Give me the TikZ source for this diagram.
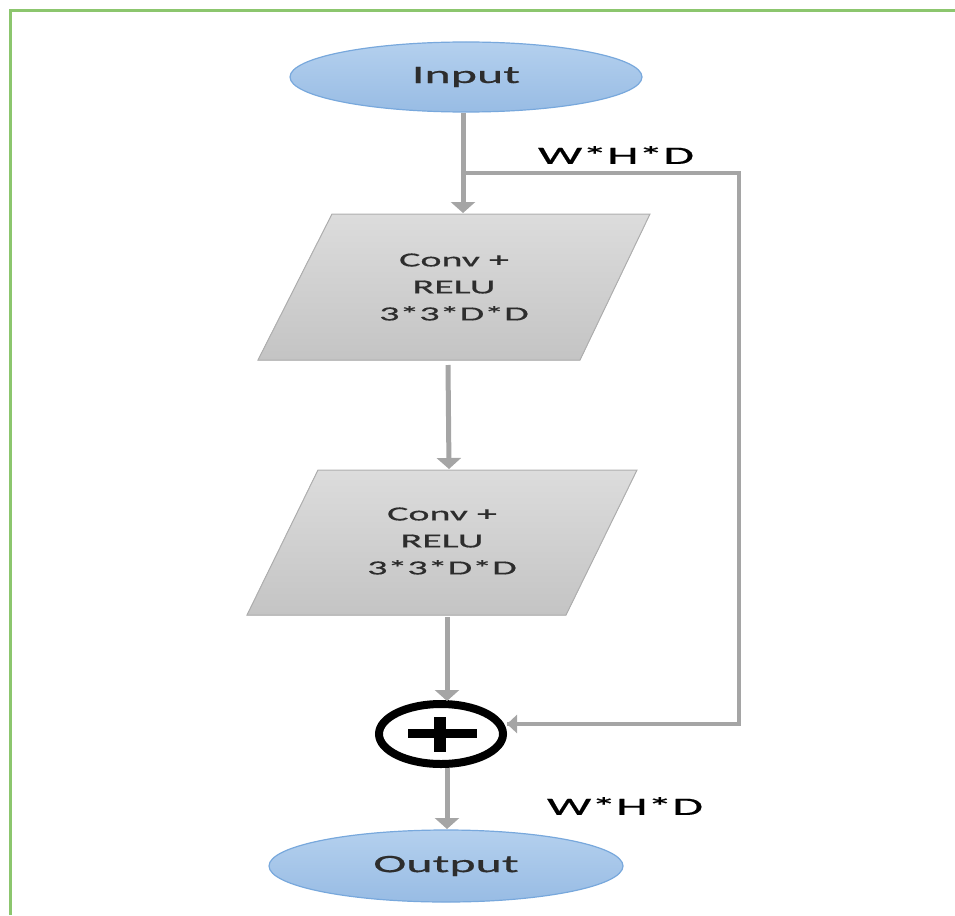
\documentclass[tikz,border=0pt]{standalone}
\usepackage{fontspec}
\usetikzlibrary{arrows.meta,shapes.geometric}
\newfontfamily\dfont[FakeStretch=2,FakeBold=0.6]{Carlito}
\definecolor{frameg}{RGB}{140,198,110}
\definecolor{linkg}{RGB}{165,165,165}
\definecolor{ovaltop}{RGB}{180,208,238}
\definecolor{ovalbot}{RGB}{152,188,228}
\definecolor{ovalrim}{RGB}{120,168,220}
\definecolor{boxtop}{RGB}{220,220,220}
\definecolor{boxbot}{RGB}{196,196,196}
\definecolor{boxrim}{RGB}{175,175,175}
\definecolor{txtgray}{RGB}{45,45,45}
\tikzset{
  x=1pt, y=-1pt,
  oval/.style={ellipse, draw=ovalrim, line width=1.2pt, top color=ovaltop,
    bottom color=ovalbot, inner sep=0pt, font=\dfont\fontsize{25}{30}\selectfont,
    text=txtgray},
  slantbox/.style={draw=boxrim, line width=1pt, top color=boxtop, bottom color=boxbot},
  boxtext/.style={align=center, font=\dfont\fontsize{20}{27}\selectfont, text=txtgray},
  link/.style={draw=linkg, line width=5pt},
  flow/.style={link, -{Triangle[width=24pt,length=11pt]}},
  dimlabel/.style={font=\dfont\fontsize{25}{30}\selectfont, text=black},
}
\begin{document}
\begin{tikzpicture}
\useasboundingbox (0,0) rectangle (955,915);
% page frame (left and top edges)
\draw[frameg, line width=3pt] (10.5,915) -- (10.5,11) -- (955,11);

% terminals
\node[oval, minimum width=352pt, minimum height=70pt] (in) at (466,77) {Input};
\node[oval, minimum width=354pt, minimum height=72pt] (out) at (446,866) {Output};

% convolution blocks
\fill[slantbox] (332,214) -- (650,214) -- (580,360) -- (258,360) -- cycle;
\node[boxtext] (c1) at (454,287) {Conv +\\RELU\\3*3*D*D};
\fill[slantbox] (318,470) -- (637,470) -- (566,615) -- (247,615) -- cycle;
\node[boxtext] (c2) at (442,541) {Conv +\\RELU\\3*3*D*D};

% element-wise sum
\node[draw=black, line width=8pt, ellipse, minimum width=124pt, minimum height=60pt,
  inner sep=0pt] (sum) at (441,734) {};
\fill[black] (408,729) rectangle (477,738);
\fill[black] (434,717) rectangle (446,752);

% connector end points
\coordinate (inS) at (463,113);
\coordinate (c1N) at (463,213);
\coordinate (split) at (463,173);
\coordinate (skipA) at (739,173);
\coordinate (skipB) at (739,724);
\coordinate (sumE) at (507,724);
\coordinate (c1S) at (448,365);
\coordinate (c2N) at (449,469);
\coordinate (c2S) at (447,617);
\coordinate (sumN) at (447,701);
\coordinate (sumS) at (447,768);
\coordinate (outN) at (447,829);

\draw[flow] (inS) -- (c1N);
\draw[link, line width=3.5pt] (split) -- (skipA) -- (skipB) -- (sumE);
\draw[link, line width=3.5pt, -{Triangle[width=18pt,length=10pt]}] ([xshift=1pt]skipB) -- (sumE);
\draw[flow] (c1S) -- (c2N);
\draw[flow] (c2S) -- (sumN);
\draw[flow] (sumS) -- (outN);

% tensor size labels
\node[dimlabel] (d1) at (616,155) {W*H*D};
\node[dimlabel] (d2) at (625,806) {W*H*D};
\end{tikzpicture}
\end{document}
